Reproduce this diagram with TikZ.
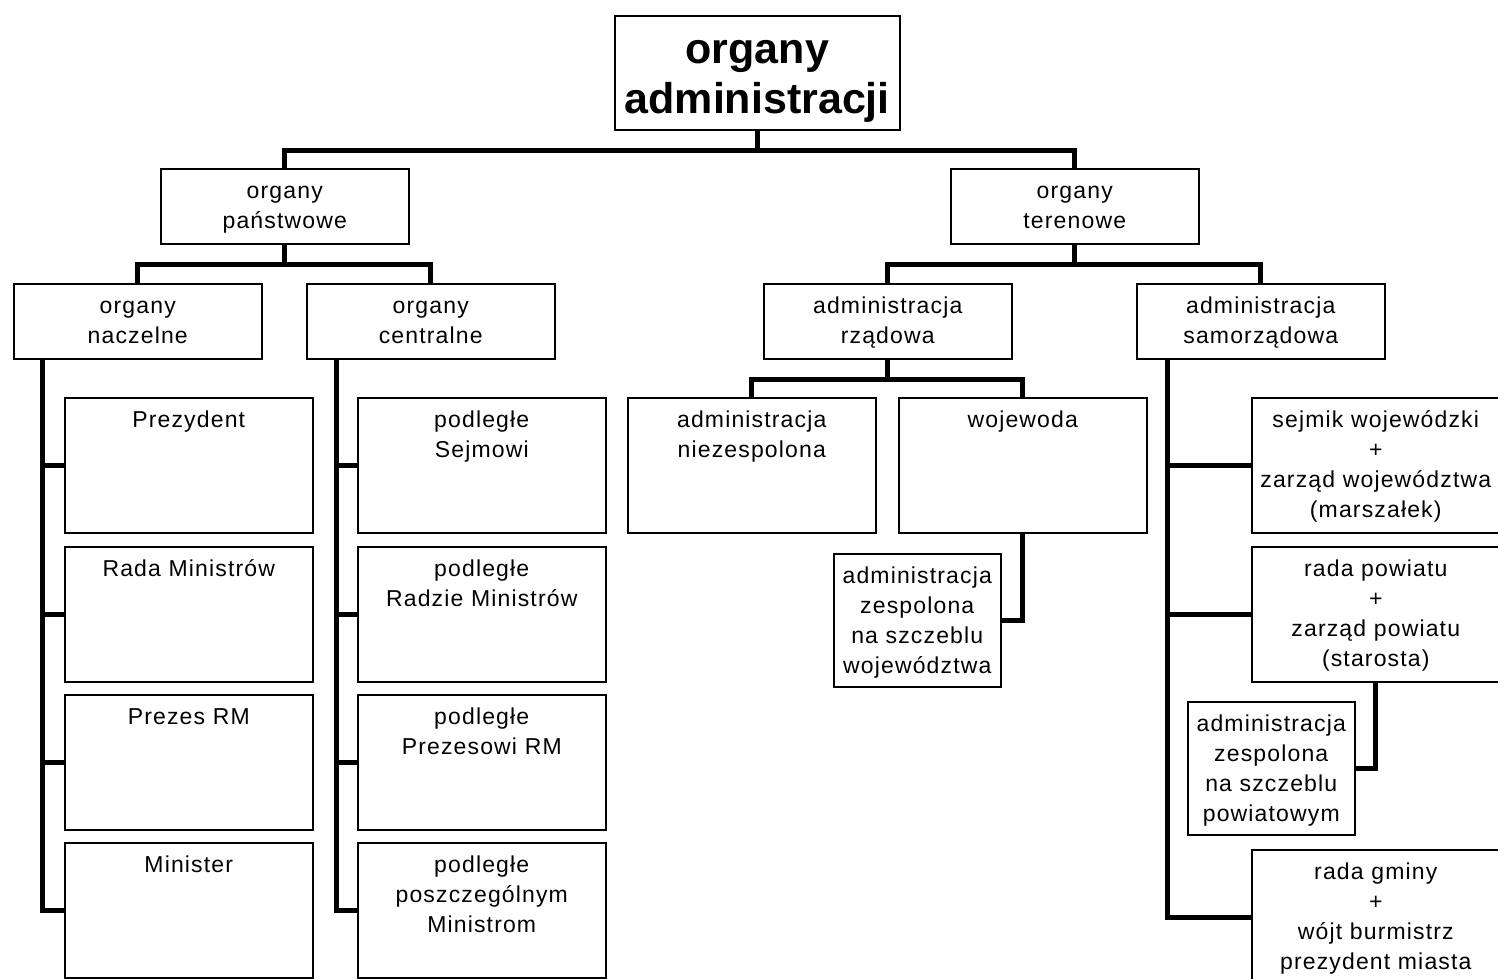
\documentclass[tikz,border=0pt]{standalone}
\usepackage{fontspec}
\setmainfont{Liberation Sans}[LetterSpace=5]
\newfontfamily\titlefont{Liberation Sans}
\begin{document}
\begin{tikzpicture}[x=1pt,y=-1pt,
  box/.style={draw, line width=1.5pt, align=center, inner xsep=5pt, inner ysep=0pt,
    anchor=north west, font=\fontsize{23}{30}\selectfont},
  head/.style={box, text width=275pt, text height=47.5pt, text depth=66.5pt,
    font=\titlefont\fontsize{43}{50}\selectfont\bfseries},
  group/.style={box, text width=238pt, text height=30pt, text depth=45pt},
  leaf/.style={box, text width=238pt, text height=29.5pt, text depth=105.5pt},
  zesp/.style={leaf, text width=157pt, text depth=103.5pt},
  link/.style={line width=5pt, line join=miter}]
  \useasboundingbox (0,0) rectangle (1498,978);
  % top
  \node[head] (org) at (614,15) {organy\\administracji};
  \node[group] (pan) at (160,168) {organy\\państwowe};
  \node[group] (ter) at (950,168) {organy\\terenowe};
  \node[group] (nacz) at (13,283) {organy\\naczelne};
  \node[group] (centr) at (306,283) {organy\\centralne};
  \node[group] (rzad) at (763,283) {administracja\\rządowa};
  \node[group] (samo) at (1136,283) {administracja\\samorządowa};
  % organy naczelne
  \node[leaf] (prez) at (64,397) {Prezydent};
  \node[leaf] (rada) at (64,546) {Rada Ministrów};
  \node[leaf] (prm) at (64,694) {Prezes RM};
  \node[leaf] (min) at (64,842) {Minister};
  % organy centralne
  \node[leaf] (sejm) at (357,397) {podległe\\Sejmowi};
  \node[leaf] (prada) at (357,546) {podległe\\Radzie Ministrów};
  \node[leaf] (pprm) at (357,694) {podległe\\Prezesowi RM};
  \node[leaf] (pmin) at (357,842) {podległe\\poszczególnym\\Ministrom};
  % administracja rzadowa
  \node[leaf] (niez) at (627,397) {administracja\\niezespolona};
  \node[leaf] (woj) at (898,397) {wojewoda};
  \node[zesp] (zwoj) at (833,553) {administracja\\zespolona\\na szczeblu\\województwa};
  % administracja samorzadowa
  \node[leaf] (sejmik) at (1251,397) {sejmik wojewódzki\\+\\zarząd województwa\\(marszałek)};
  \node[leaf] (powiat) at (1251,546) {rada powiatu\\+\\zarząd powiatu\\(starosta)};
  \node[zesp] (zpow) at (1187,701) {administracja\\zespolona\\na szczeblu\\powiatowym};
  \node[leaf] (gmina) at (1251,849) {rada gminy\\+\\wójt burmistrz\\prezydent miasta};
  % connectors
  \draw[link] (org.south) -- ++(0,20) coordinate (j0);
  \draw[link] (pan.north) |- (j0) -| (ter.north);
  \draw[link] (pan.south) -- ++(0,20) coordinate (j1);
  \draw[link] (nacz.north) |- (j1) -| (centr.north);
  \draw[link] (ter.south) -- ++(0,20) coordinate (j2);
  \draw[link] (rzad.north) |- (j2) -| (samo.north);
  \draw[link] (rzad.south) -- ++(0,20) coordinate (j3);
  \draw[link] (niez.north) |- (j3) -| (woj.north);
  \draw[link] ([xshift=29pt]nacz.south west) |- (min.west);
  \foreach \n in {prez,rada,prm}
    \draw[link] (\n.west) -- ++(-22,0);
  \draw[link] ([xshift=30pt]centr.south west) |- (pmin.west);
  \foreach \n in {sejm,prada,pprm}
    \draw[link] (\n.west) -- ++(-21,0);
  \draw[link] (woj.south) |- (zwoj.east);
  \draw[link] ([xshift=31pt]samo.south west) |- (gmina.west);
  \foreach \n in {sejmik,powiat}
    \draw[link] (\n.west) -- ++(-84,0);
  \draw[link] (powiat.south) |- (zpow.east);
\end{tikzpicture}
\end{document}
